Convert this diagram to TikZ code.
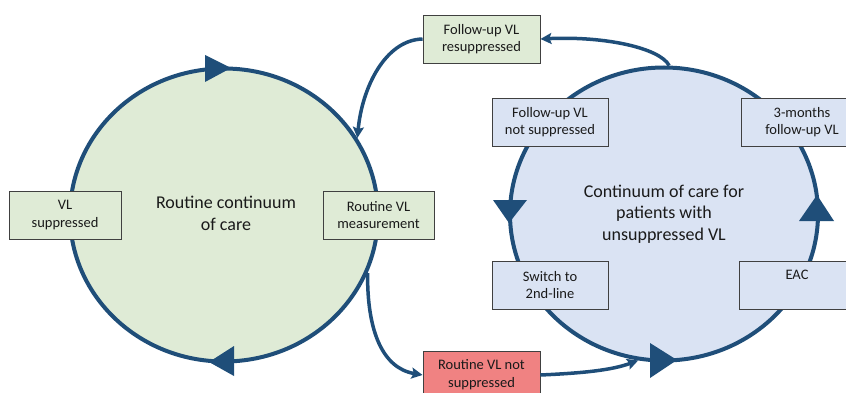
\documentclass[tikz,border=0pt]{standalone}
\usepackage{fontspec}
\setmainfont{Carlito}
\usetikzlibrary{shapes.geometric,arrows.meta}
\definecolor{ln}{HTML}{1F4E79}
\definecolor{gfill}{HTML}{DFEBD6}
\definecolor{bfill}{HTML}{DAE3F3}
\definecolor{rfill}{HTML}{F08282}
\definecolor{bord}{HTML}{404040}
\definecolor{txt}{HTML}{1A1A1A}
\begin{document}
\begin{tikzpicture}[x=1pt,y=-1pt,
  cyc/.style={ellipse, draw=ln, line width=4pt, inner sep=0pt, minimum width=308pt, minimum height=293pt},
  box/.style={draw=bord, line width=0.9pt, minimum height=48pt, inner sep=0pt, align=center, text=txt, font=\fontsize{14.5}{17.7}\selectfont},
  ctext/.style={align=center, text=txt, font=\fontsize{18}{21.7}\selectfont},
  conn/.style={draw=ln, line width=3.5pt, -{Stealth[length=11pt,width=11pt,inset=2pt]}},
  bigtip/.style={fill=ln}
]
\useasboundingbox (0,0) rectangle (846,393);
\clip (0,0) rectangle (846,393);
% circles
\node[cyc, fill=gfill] (L) at (224,215) {};
\node[cyc, fill=bfill] (R) at (664,214) {};
% big arrowheads on cycles
\fill[bigtip] (231,68) -- (205,55) -- (205,82) -- cycle;
\fill[bigtip] (209,362) -- (234,346) -- (234,376) -- cycle;
\fill[bigtip] (509,223) -- (493,200) -- (527,200) -- cycle;
\fill[bigtip] (677,360) -- (650,343) -- (650,378) -- cycle;
\fill[bigtip] (817,195) -- (799,221) -- (834,221) -- cycle;
% boxes
\node[box, fill=gfill, minimum width=112pt] (vls) at (65,215) {VL\\suppressed};
\node[box, fill=gfill, minimum width=111pt] (rvm) at (378.5,215) {Routine VL\\measurement};
\node[box, fill=gfill, minimum width=117pt] (fur) at (481.5,39) {Follow-up VL\\resuppressed};
\node[box, fill=bfill, minimum width=116pt] (fun) at (550,122) {Follow-up VL\\not suppressed};
\node[box, fill=bfill, minimum width=122pt] (tmf) at (802,122) {3-months\\follow-up VL};
\node[box, fill=bfill, minimum width=116pt] (sw) at (550,285) {Switch to\\2nd-line};
\node[box, fill=bfill, minimum width=116pt] (eac) at (797,285) {EAC\\\phantom{g}};
\node[box, fill=rfill, minimum width=117pt] (rvn) at (481.5,375) {Routine VL not\\suppressed};
% connectors
\draw[conn] (L.-22) .. controls (367,330) and (382,368) .. (rvn.west);
\draw[conn] (rvn.east) .. controls (585,373) and (612,370) .. (R.-100);
\draw[conn] (R.88) .. controls (660,48) and (605,36) .. (fur.east);
\draw[conn] (fur.west) .. controls (385,40) and (362,88) .. (L.30);
% centre texts
\node[ctext] (lt) at (226,213) {Routine continuum\\of care};
\node[ctext] (rt) at (664,214) {Continuum of care for\\patients with\\unsuppressed VL};
\end{tikzpicture}
\end{document}
